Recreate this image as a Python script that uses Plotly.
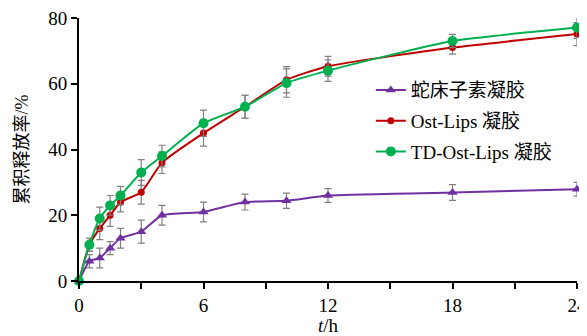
import plotly.graph_objects as go

# Data
t_hours = [0, 0.5, 1, 1.5, 2, 3, 4, 6, 8, 10, 12, 18, 24]
series_names = ["蛇床子素凝胶", "Ost-Lips 凝胶", "TD-Ost-Lips 凝胶"]
osthole_gel = [0, 6, 7, 10, 13, 15, 20, 21, 24, 24.4, 26, 26.9, 27.9]
osthole_gel_err = [0, 2, 3, 2, 3, 3.5, 3, 3, 2.4, 2.3, 2.1, 2.4, 2.1]
ost_lips_gel = [0, 11, 16, 20, 24, 27, 36, 45, 53, 61.2, 65.3, 71, 75.1]
ost_lips_gel_err = [0, 2, 3.4, 3.4, 3, 3.6, 3.3, 4, 3.5, 4, 3, 2, 3.5]
td_ost_lips_gel = [0, 11, 19, 23, 26, 33, 38, 48, 53, 60.2, 64, 73, 77.1]
td_ost_lips_gel_err = [0, 2, 3.5, 3, 2.8, 3.9, 3.3, 4, 3.5, 4.3, 3.3, 2, 3.3]

x_tick_vals = [0, 3, 6, 9, 12, 15, 18, 21, 24]
x_tick_text = ["0", "", "6", "", "12", "", "18", "", "24"]
y_tick_vals = [0, 20, 40, 60, 80]

colors = ["#7030A0", "#C00000", "#00B050"]
symbols = ["triangle-up", "circle", "circle"]
sizes = [9, 7, 10]
values = [osthole_gel, ost_lips_gel, td_ost_lips_gel]
errors = [osthole_gel_err, ost_lips_gel_err, td_ost_lips_gel_err]

FONT = "Liberation Serif, Times New Roman, Noto Sans CJK SC, serif"

fig = go.Figure()
for i in range(3):
    fig.add_trace(go.Scatter(
        x=t_hours, y=values[i], name=series_names[i],
        mode="lines+markers", legendgroup=str(i),
        line=dict(color=colors[i], width=2, shape="spline", smoothing=0.5),
        marker=dict(color=colors[i], symbol=symbols[i], size=sizes[i]),
        error_y=dict(type="data", array=errors[i], visible=True,
                     color="#808080", thickness=1.2, width=3.5),
        cliponaxis=False,
    ))

# page body has an 8px margin, so the figure is 8px smaller and offset
fig.update_layout(
    width=579, height=328,
    margin=dict(l=71, r=10, t=10, b=55),
    paper_bgcolor="white", plot_bgcolor="white",
    font=dict(family=FONT, size=19, color="black"),
    showlegend=True,
    legend=dict(x=0.586, y=0.798, xanchor="left", yanchor="top",
                bgcolor="rgba(0,0,0,0)", tracegroupgap=3,
                font=dict(family=FONT, size=19)),
)
fig.update_xaxes(
    range=[0, 24], tickvals=x_tick_vals, ticktext=x_tick_text,
    showline=True, linecolor="black", linewidth=1.8,
    ticks="outside", ticklen=6, tickwidth=1.8, tickcolor="black",
    showgrid=False, zeroline=False, automargin=False,
    ticklabeloverflow="allow",
    title=dict(text="<i>t</i>/h", font=dict(size=19), standoff=6),
)
fig.update_yaxes(
    range=[0, 80], tickvals=y_tick_vals,
    showline=True, linecolor="black", linewidth=1.8,
    ticks="outside", ticklen=6, tickwidth=1.8, tickcolor="black",
    showgrid=False, zeroline=False, automargin=False,
    ticklabeloverflow="allow",
    title=dict(text="累积释放率/%", font=dict(size=18), standoff=15),
)

fig.write_html("out.html")
